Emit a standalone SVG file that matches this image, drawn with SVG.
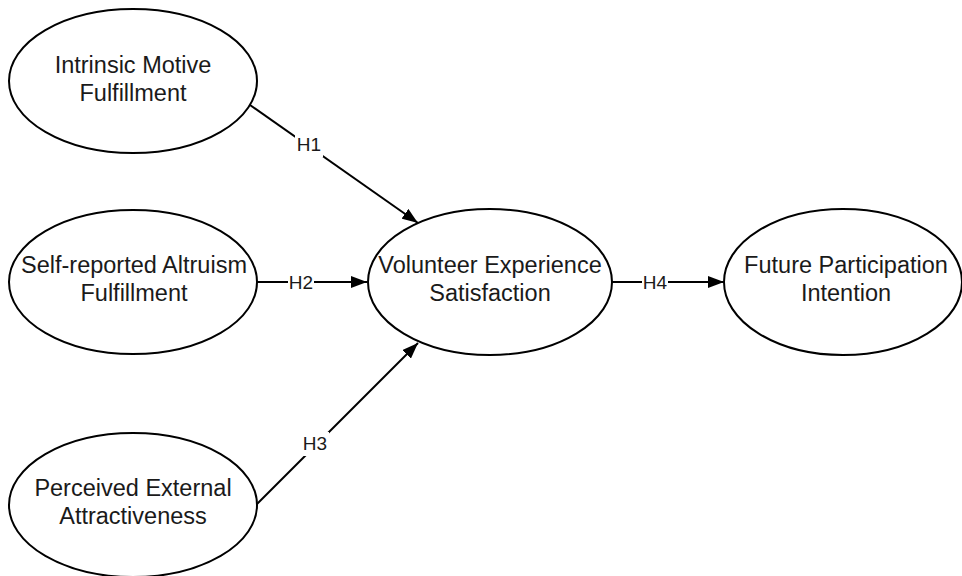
<svg xmlns="http://www.w3.org/2000/svg" width="962" height="576" viewBox="0 0 962 576">
<style>
.node{fill:#fff;stroke:#000;stroke-width:2}
.t{font-family:"Liberation Sans",Arial,sans-serif;font-size:23.5px;fill:#1a1a1a;text-anchor:middle}
.edge{stroke:#000;stroke-width:2;fill:none}
.lbl{font-family:"Liberation Sans",Arial,sans-serif;font-size:19px;fill:#1a1a1a;text-anchor:middle}
.bg{fill:#fff}
</style>
<defs>
<marker id="arr" viewBox="0 0 16 12" refX="16" refY="6" markerWidth="16" markerHeight="12" markerUnits="userSpaceOnUse" orient="auto">
<path d="M0,0 L16,6 L0,12 z" fill="#000"/>
</marker>
</defs>
<rect width="962" height="576" fill="#fff"/>
<g id="connectors">
<line class="edge" x1="250" y1="105" x2="418" y2="223" marker-end="url(#arr)"/>
<line class="edge" x1="257" y1="282" x2="367" y2="282" marker-end="url(#arr)"/>
<line class="edge" x1="256" y1="505" x2="418" y2="343" marker-end="url(#arr)"/>
<line class="edge" x1="612" y1="282" x2="724" y2="282" marker-end="url(#arr)"/>
<rect class="bg" x="295" y="133" width="28" height="24"/>
<text class="lbl" x="309" y="151">H1</text>
<rect class="bg" x="288" y="272" width="26" height="20"/>
<text class="lbl" x="301" y="289">H2</text>
<rect class="bg" x="301" y="432" width="28" height="24"/>
<text class="lbl" x="315" y="450">H3</text>
<rect class="bg" x="642" y="272" width="26" height="20"/>
<text class="lbl" x="655" y="289">H4</text>
</g>
<g id="intrinsic">
<ellipse class="node" cx="133" cy="81" rx="124" ry="72"/>
<text class="t" x="133" y="73">Intrinsic Motive</text>
<text class="t" x="133" y="101">Fulfillment</text>
</g>
<g id="altruism">
<ellipse class="node" cx="133" cy="282" rx="124" ry="72"/>
<text class="t" x="134" y="273">Self-reported Altruism</text>
<text class="t" x="134" y="301">Fulfillment</text>
</g>
<g id="external">
<ellipse class="node" cx="133" cy="505" rx="124" ry="72"/>
<text class="t" x="133" y="496">Perceived External</text>
<text class="t" x="133" y="524">Attractiveness</text>
</g>
<g id="satisfaction">
<ellipse class="node" cx="490" cy="282" rx="122" ry="73"/>
<text class="t" x="490" y="273">Volunteer Experience</text>
<text class="t" x="490" y="301">Satisfaction</text>
</g>
<g id="intention">
<ellipse class="node" cx="843" cy="282" rx="119" ry="73"/>
<text class="t" x="846" y="273">Future Participation</text>
<text class="t" x="846" y="301">Intention</text>
</g>
</svg>
